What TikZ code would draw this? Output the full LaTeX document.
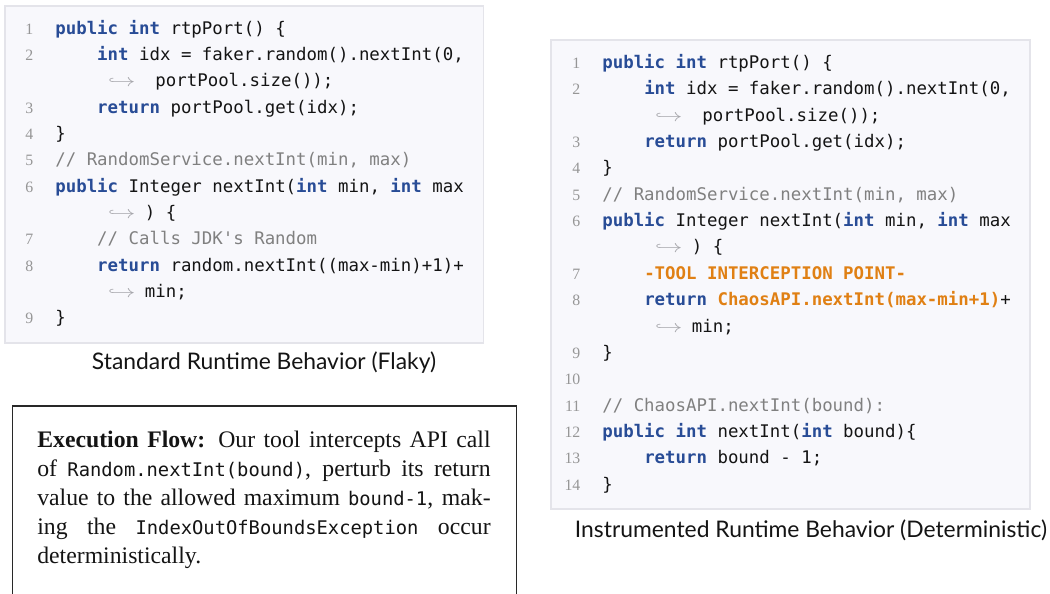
\documentclass[tikz,border=0pt]{standalone}
\usepackage{fontspec}
\setmainfont{Liberation Serif}
\setmonofont{DejaVu Sans Mono}
\newfontfamily\capfont{Lato}
\usepackage{xcolor}
\usepackage{tikz}
\usetikzlibrary{positioning}
\definecolor{ink}{RGB}{20,20,20}
\definecolor{kwblue}{RGB}{40,76,150}
\definecolor{chaosorange}{RGB}{224,128,20}
\definecolor{cmtgray}{RGB}{128,128,128}
\definecolor{lnogray}{RGB}{150,150,150}
\definecolor{arrowgray}{RGB}{165,165,170}
\definecolor{codebg}{RGB}{248,248,252}
\definecolor{codeframe}{RGB}{228,228,234}
\definecolor{framegray}{RGB}{40,40,40}
\newcommand\codefont{\fontsize{9.9pt}{15pt}\selectfont\ttfamily}
\newcommand\kw[1]{\textcolor{kwblue}{\bfseries #1}}
\newcommand\cmt[1]{\textcolor{cmtgray}{#1}}
\newcommand\chaos[1]{\textcolor{chaosorange}{\bfseries #1}}
\newcommand\ind{\phantom{xxxx}}
\newcommand\lno[1]{\makebox[0pt][r]{\fontsize{9pt}{10pt}\selectfont\rmfamily\textcolor{lnogray}{#1}\hspace{12.5pt}}}
\newcommand\wrapln{\makebox[51pt][l]{\hspace{30pt}\textcolor{arrowgray}{\scalebox{1.4}[1]{$\hookrightarrow$}}}}
\newcommand\inl[1]{{\fontsize{10.7pt}{16.6pt}\selectfont\ttfamily #1}}
\newcommand\jline[1]{\makebox[258pt][s]{#1}}
\tikzset{
  codebox/.style={draw=codeframe, fill=codebg, line width=0.9pt, inner sep=0pt,
    anchor=north west},
  codetext/.style={anchor=base west, inner sep=0pt, font=\codefont, text=ink},
  caption/.style={font=\capfont\fontsize{13pt}{15pt}\selectfont, text=ink, inner sep=0pt},
  flowframe/.style={draw=framegray, line width=0.8pt},
  flowtext/.style={anchor=base west, inner sep=0pt, text=ink,
    font=\fontsize{13.5pt}{16.6pt}\selectfont},
}
\begin{document}
\begin{tikzpicture}[x=0.02cm, y=-0.02cm]
  \useasboundingbox (0,0) rectangle (1050,593);
  % standard (flaky) listing
  \node[codebox, minimum width=9.58cm, minimum height=6.74cm] (flakybox) at (4,5) {};
  \node[codetext] (flakycode) at (55,34) {\begin{tabular}[t]{@{}l@{}}
    \lno{1}\kw{public} \kw{int} rtpPort() \{\\
    \lno{2}\ind\kw{int} idx = faker.random().nextInt(0,\\
    \wrapln\ portPool.size());\\
    \lno{3}\ind\kw{return} portPool.get(idx);\\
    \lno{4}\}\\
    \lno{5}\cmt{// RandomService.nextInt(min, max)}\\
    \lno{6}\kw{public} Integer nextInt(\kw{int} min, \kw{int} max\\
    \wrapln) \{\\
    \lno{7}\ind\cmt{// Calls JDK's Random}\\
    \lno{8}\ind\kw{return} random.nextInt((max-min)+1)+\\
    \wrapln min;\\
    \lno{9}\}
  \end{tabular}};
  \node[caption] (flakycap) at (264,363) {Standard Runtime Behavior (Flaky)};
  % instrumented (deterministic) listing
  \node[codebox, minimum width=9.58cm, minimum height=9.38cm] (chaosbox) at (550,39) {};
  \node[codetext] (chaoscode) at (602,68.5) {\begin{tabular}[t]{@{}l@{}}
    \lno{1}\kw{public} \kw{int} rtpPort() \{\\
    \lno{2}\ind\kw{int} idx = faker.random().nextInt(0,\\
    \wrapln\ portPool.size());\\
    \lno{3}\ind\kw{return} portPool.get(idx);\\
    \lno{4}\}\\
    \lno{5}\cmt{// RandomService.nextInt(min, max)}\\
    \lno{6}\kw{public} Integer nextInt(\kw{int} min, \kw{int} max\\
    \wrapln) \{\\
    \lno{7}\ind\chaos{-TOOL INTERCEPTION POINT-}\\
    \lno{8}\ind\kw{return} \chaos{ChaosAPI.nextInt(max-min+1)}+\\
    \wrapln min;\\
    \lno{9}\}\\
    \lno{10}\\
    \lno{11}\cmt{// ChaosAPI.nextInt(bound):}\\
    \lno{12}\kw{public} \kw{int} nextInt(\kw{int} bound)\{\\
    \lno{13}\ind\kw{return} bound - 1;\\
    \lno{14}\}
  \end{tabular}};
  \node[caption] (chaoscap) at (811,530) {Instrumented Runtime Behavior (Deterministic)};
  % execution flow note
  \draw[flowframe] (12.5,600) |- (516.5,406) -- (516.5,600);
  \node[flowtext] (flow) at (37,447) {\begin{tabular}[t]{@{}l@{}}
    \jline{\textbf{Execution Flow:} Our tool intercepts API call}\\
    \jline{of \inl{Random.nextInt(bound)}, perturb its return}\\
    \jline{value to the allowed maximum \inl{bound-1}, mak-}\\
    \jline{ing the \inl{IndexOutOfBoundsException} occur}\\
    deterministically.
  \end{tabular}};
\end{tikzpicture}
\end{document}
